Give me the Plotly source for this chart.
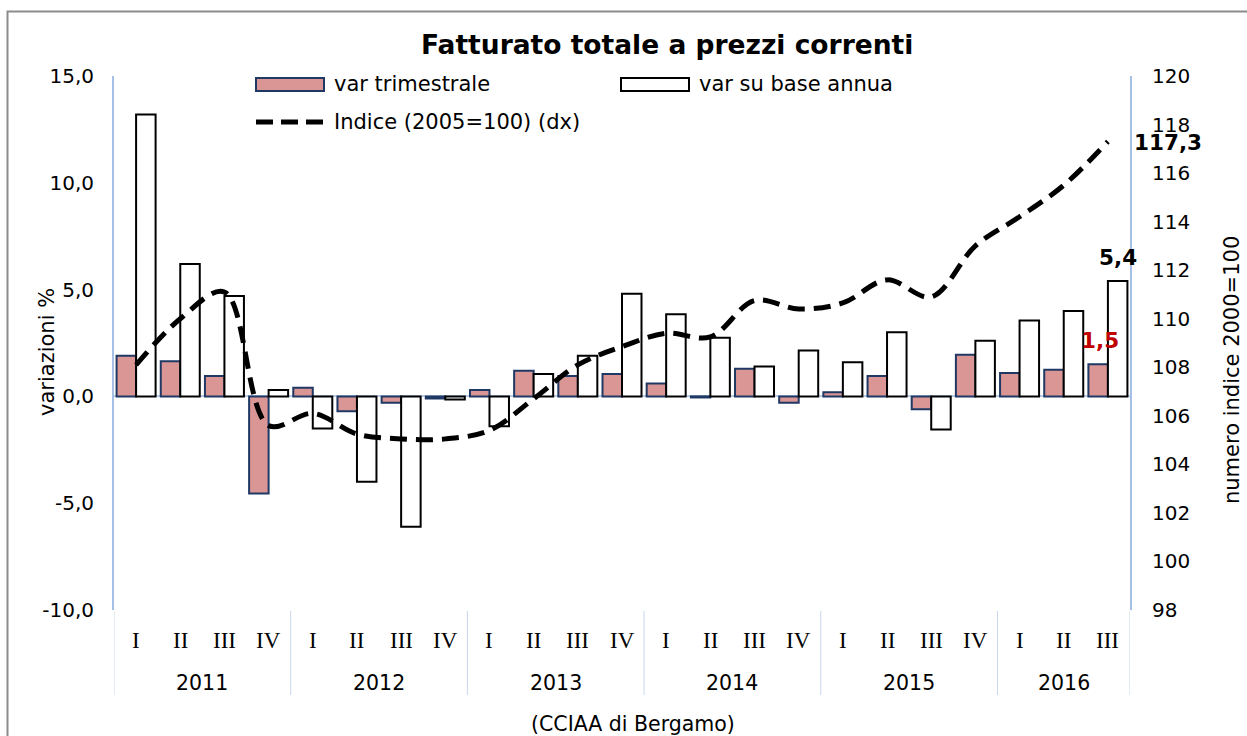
import plotly.graph_objects as go

# ---- data ----
quarters = ["I", "II", "III", "IV"] * 5 + ["I", "II", "III"]
years = ["2011", "2012", "2013", "2014", "2015", "2016"]
year_sizes = [4, 4, 4, 4, 4, 3]
var_trimestrale = [1.9, 1.65, 0.95, -4.55, 0.4, -0.7, -0.3, -0.1, 0.3, 1.2, 0.95, 1.05,
                   0.6, -0.05, 1.3, -0.3, 0.2, 0.95, -0.6, 1.95, 1.1, 1.25, 1.5]
var_annua = [13.2, 6.2, 4.7, 0.3, -1.5, -4.0, -6.1, -0.15, -1.4, 1.05, 1.9, 4.8,
             3.85, 2.75, 1.4, 2.15, 1.6, 3.0, -1.55, 2.6, 3.55, 4.0, 5.4]
indice = [108.1, 110.0, 111.1, 105.6, 106.1, 105.25, 105.05, 105.05, 105.4, 106.7, 108.1, 108.85,
          109.4, 109.25, 110.75, 110.4, 110.65, 111.6, 110.9, 113.0, 114.2, 115.5, 117.3]
left_tickvals = [-10, -5, 0, 5, 10, 15]
left_ticktext = ["-10,0", "-5,0", "0,0", "5,0", "10,0", "15,0"]

W, H = 1247, 736
L, R, T, B = 114, 1130, 76, 610  # plot area in pixels


def px(xp):
    return (xp - L) / (R - L)


def py(yp):
    return (B - yp) / (B - T)


def fmt(v):
    return f"{v:.1f}".replace(".", ",")


SANS = "DejaVu Sans"
SERIF = "Liberation Serif"
PINK = "#DA9694"
NAVY = "#1F3864"
AXIS = "#A6BFE6"

x = list(range(len(quarters)))

fig = go.Figure()
fig.add_trace(go.Bar(x=x, y=var_trimestrale, name="var trimestrale",
                     marker=dict(color=PINK, line=dict(color=NAVY, width=2)), yaxis="y"))
fig.add_trace(go.Bar(x=x, y=var_annua, name="var su base annua",
                     marker=dict(color="white", line=dict(color="black", width=2)), yaxis="y"))
fig.add_trace(go.Scatter(x=x, y=indice, name="Indice (2005=100) (dx)", mode="lines",
                         line=dict(color="black", width=5, dash="17px,9px", shape="spline", smoothing=1),
                         yaxis="y2"))

annotations = []
shapes = []

# quarter labels
for i, q in enumerate(quarters):
    annotations.append(dict(x=i, y=py(640), xref="x", yref="paper", text=q, showarrow=False,
                            font=dict(family=SERIF, size=23, color="black"),
                            xanchor="center", yanchor="middle"))
# year labels and separators
start = 0
seps = [-0.5]
for yr, n in zip(years, year_sizes):
    center = start + (n - 1) / 2
    annotations.append(dict(x=center, y=py(683), xref="x", yref="paper", text=yr, showarrow=False,
                            font=dict(family=SANS, size=20.5, color="black"),
                            xanchor="center", yanchor="middle"))
    start += n
    seps.append(start - 0.5)
for s in seps:
    shapes.append(dict(type="line", xref="x", yref="paper", x0=s, x1=s, y0=py(611), y1=py(695),
                       line=dict(color="#C9D7EC", width=1)))

# title
annotations.append(dict(x=px(667), y=py(45), xref="paper", yref="paper",
                        text="<b>Fatturato totale a prezzi correnti</b>", showarrow=False,
                        font=dict(family=SANS, size=26.5, color="black"),
                        xanchor="center", yanchor="middle"))
# source
annotations.append(dict(x=px(633), y=py(724), xref="paper", yref="paper",
                        text="(CCIAA di Bergamo)", showarrow=False,
                        font=dict(family=SANS, size=20.5, color="black"),
                        xanchor="center", yanchor="middle"))
# axis titles
annotations.append(dict(x=px(47), y=py(352), xref="paper", yref="paper", text="variazioni %",
                        showarrow=False, textangle=-90, xanchor="center", yanchor="middle",
                        font=dict(family=SANS, size=21, color="black")))
annotations.append(dict(x=px(1232), y=py(370), xref="paper", yref="paper", text="numero indice 2000=100",
                        showarrow=False, textangle=-90, xanchor="center", yanchor="middle",
                        font=dict(family=SANS, size=21, color="black")))

# legend (manual)
shapes.append(dict(type="rect", xref="paper", yref="paper", x0=px(256), x1=px(324), y0=py(91), y1=py(78),
                   fillcolor=PINK, line=dict(color=NAVY, width=2)))
shapes.append(dict(type="rect", xref="paper", yref="paper", x0=px(621), x1=px(689), y0=py(91), y1=py(78),
                   fillcolor="white", line=dict(color="black", width=2)))
shapes.append(dict(type="line", xref="paper", yref="paper", x0=px(256), x1=px(324), y0=py(122), y1=py(122),
                   line=dict(color="black", width=5, dash="17px,8px")))
for txt, xx, yy in [("var trimestrale", 332, 84), ("var su base annua", 697, 84),
                    ("Indice (2005=100) (dx)", 332, 122)]:
    annotations.append(dict(x=px(xx), y=py(yy), xref="paper", yref="paper", text=txt, showarrow=False,
                            xanchor="left", yanchor="middle", font=dict(family=SANS, size=21, color="black")))

# data labels for last point
last = len(quarters) - 1
annotations.append(dict(x=last, y=var_annua[last], xref="x", yref="y", text=f"<b>{fmt(var_annua[last])}</b>",
                        showarrow=False, xshift=10, yshift=24, xanchor="center", yanchor="middle",
                        font=dict(family=SANS, size=21.5, color="black")))
annotations.append(dict(x=last, y=var_trimestrale[last], xref="x", yref="y",
                        text=f"<b>{fmt(var_trimestrale[last])}</b>",
                        showarrow=False, xshift=-8, yshift=24, xanchor="center", yanchor="middle",
                        font=dict(family=SANS, size=21.5, color="#C00000")))
annotations.append(dict(x=last, y=indice[last], xref="x", yref="y2", text=f"<b>{fmt(indice[last])}</b>",
                        showarrow=False, xshift=24, yshift=-1, xanchor="left", yanchor="middle",
                        font=dict(family=SANS, size=21.5, color="black")))

# outer frame
shapes.append(dict(type="rect", xref="paper", yref="paper", x0=px(7.5), x1=px(1300), y0=py(800), y1=py(11.5),
                   line=dict(color="#8C8C8C", width=2), fillcolor="rgba(0,0,0,0)"))

fig.update_layout(
    template="none",
    width=W, height=H,
    margin=dict(l=L, r=W - R, t=T, b=H - B, pad=0),
    paper_bgcolor="white", plot_bgcolor="white",
    barmode="group", bargap=0.117, bargroupgap=0,
    showlegend=False,
    separators=",.",
    font=dict(family=SANS, size=19, color="black"),
    xaxis=dict(range=[-0.5, 22.5], showticklabels=False, showgrid=False, zeroline=False,
               showline=False, ticks="", automargin=False),
    yaxis=dict(range=[-10, 15], tickvals=left_tickvals, ticktext=left_ticktext, showgrid=False,
               zeroline=True, zerolinecolor="#BCCDE8", zerolinewidth=1.5, showline=True,
               linecolor=AXIS, linewidth=2, ticks="", ticklabelstandoff=14,
               tickfont=dict(family=SANS, size=20, color="black"), automargin=False),
    yaxis2=dict(range=[98, 120], dtick=2, overlaying="y", side="right", showgrid=False, zeroline=False,
                showline=True, linecolor=AXIS, linewidth=2, ticks="", ticklabelstandoff=16,
                tickfont=dict(family=SANS, size=20, color="black"), automargin=False),
    annotations=annotations,
    shapes=shapes,
)

fig.write_html("out.html", config={"displayModeBar": False},
               post_script="document.body.style.margin='0';document.body.style.overflow='hidden';")
